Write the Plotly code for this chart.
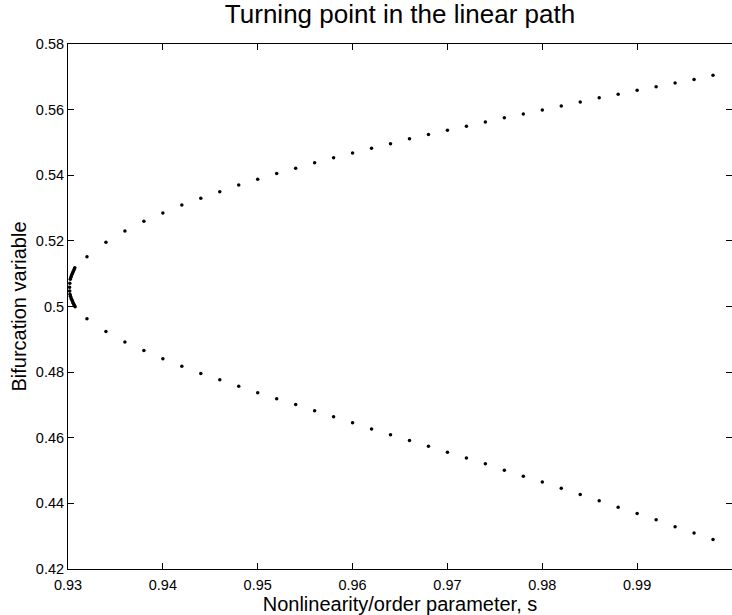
import plotly.graph_objects as go

# Upper branch (s, bifurcation variable)
s_upper = [0.932, 0.934, 0.936, 0.938, 0.940, 0.942, 0.944, 0.946, 0.948, 0.950,
           0.952, 0.954, 0.956, 0.958, 0.960, 0.962, 0.964, 0.966, 0.968, 0.970,
           0.972, 0.974, 0.976, 0.978, 0.980, 0.982, 0.984, 0.986, 0.988, 0.990,
           0.992, 0.994, 0.996, 0.998]
v_upper = [0.5152, 0.5196, 0.5230, 0.5260, 0.5285, 0.5309, 0.5330, 0.5350, 0.5370, 0.5388,
           0.5405, 0.5421, 0.5438, 0.5453, 0.5468, 0.5482, 0.5496, 0.5511, 0.5524, 0.5537,
           0.5549, 0.5562, 0.5575, 0.5587, 0.5599, 0.5611, 0.5623, 0.5636, 0.5647, 0.5659,
           0.5670, 0.5681, 0.5692, 0.5705]

# Points around the turning point (dense near the ends, sparse in the middle)
s_turn = [0.93072, 0.93066, 0.93060, 0.93054, 0.93048, 0.93042, 0.93036, 0.93030,
          0.93024, 0.93019, 0.93017, 0.93018, 0.93021,
          0.93026, 0.93032, 0.93038, 0.93044, 0.93050, 0.93056, 0.93062, 0.93068, 0.93075]
v_turn = [0.5118, 0.5114, 0.5110, 0.5106, 0.5102, 0.5098, 0.5094, 0.5089,
          0.5083, 0.5071, 0.5059, 0.5047, 0.5037,
          0.5031, 0.5026, 0.5022, 0.5018, 0.5014, 0.5010, 0.5006, 0.5003, 0.4999]

# Lower branch
s_lower = [0.932, 0.934, 0.936, 0.938, 0.940, 0.942, 0.944, 0.946, 0.948, 0.950,
           0.952, 0.954, 0.956, 0.958, 0.960, 0.962, 0.964, 0.966, 0.968, 0.970,
           0.972, 0.974, 0.976, 0.978, 0.980, 0.982, 0.984, 0.986, 0.988, 0.990,
           0.992, 0.994, 0.996, 0.998]
v_lower = [0.4963, 0.4924, 0.4892, 0.4866, 0.4841, 0.4818, 0.4796, 0.4777, 0.4757, 0.4737,
           0.4719, 0.4701, 0.4682, 0.4664, 0.4646, 0.4627, 0.4609, 0.4592, 0.4574, 0.4556,
           0.4538, 0.4521, 0.4501, 0.4483, 0.4465, 0.4446, 0.4427, 0.4408, 0.4388, 0.4369,
           0.4350, 0.4329, 0.4310, 0.4290]

x_ticks = [0.93, 0.94, 0.95, 0.96, 0.97, 0.98, 0.99, 1.0]
x_tick_labels = ["0.93", "0.94", "0.95", "0.96", "0.97", "0.98", "0.99", "1"]
y_ticks = [0.42, 0.44, 0.46, 0.48, 0.50, 0.52, 0.54, 0.56, 0.58]
y_tick_labels = ["0.42", "0.44", "0.46", "0.48", "0.5", "0.52", "0.54", "0.56", "0.58"]

s_all = s_upper[::-1] + s_turn + s_lower
v_all = v_upper[::-1] + v_turn + v_lower

fig = go.Figure()
fig.add_trace(go.Scatter(
    x=s_all, y=v_all, mode="markers",
    marker=dict(color="black", size=3.5),
    showlegend=False, hoverinfo="x+y",
))

font_family = "Liberation Sans, Arial, sans-serif"
fig.update_layout(
    width=732, height=615,
    margin=dict(l=68, r=0, t=44, b=46),
    paper_bgcolor="white", plot_bgcolor="white",
    font=dict(family=font_family, color="black", size=14),
    title=dict(text="Turning point in the linear path", x=0.5, xref="paper",
               y=1 - 14 / 615, yref="container", yanchor="middle",
               font=dict(size=26, color="black")),
    xaxis=dict(range=[0.93, 1.0], tickvals=x_ticks, ticktext=x_tick_labels,
               ticks="inside", ticklen=6, tickcolor="black", tickwidth=1,
               showline=True, linecolor="black", linewidth=1, mirror="ticks",
               showgrid=False, zeroline=False,
               tickfont=dict(size=14.5), ticklabelstandoff=3,
               title=dict(text="Nonlinearity/order parameter, s",
                          font=dict(size=20), standoff=2)),
    yaxis=dict(range=[0.42, 0.58], tickvals=y_ticks, ticktext=y_tick_labels,
               ticks="inside", ticklen=6, tickcolor="black", tickwidth=1,
               showline=True, linecolor="black", linewidth=1, mirror="ticks",
               showgrid=False, zeroline=False,
               tickfont=dict(size=14.5),
               title=dict(text="Bifurcation variable",
                          font=dict(size=20), standoff=3)),
)

fig.write_html("out.html")
